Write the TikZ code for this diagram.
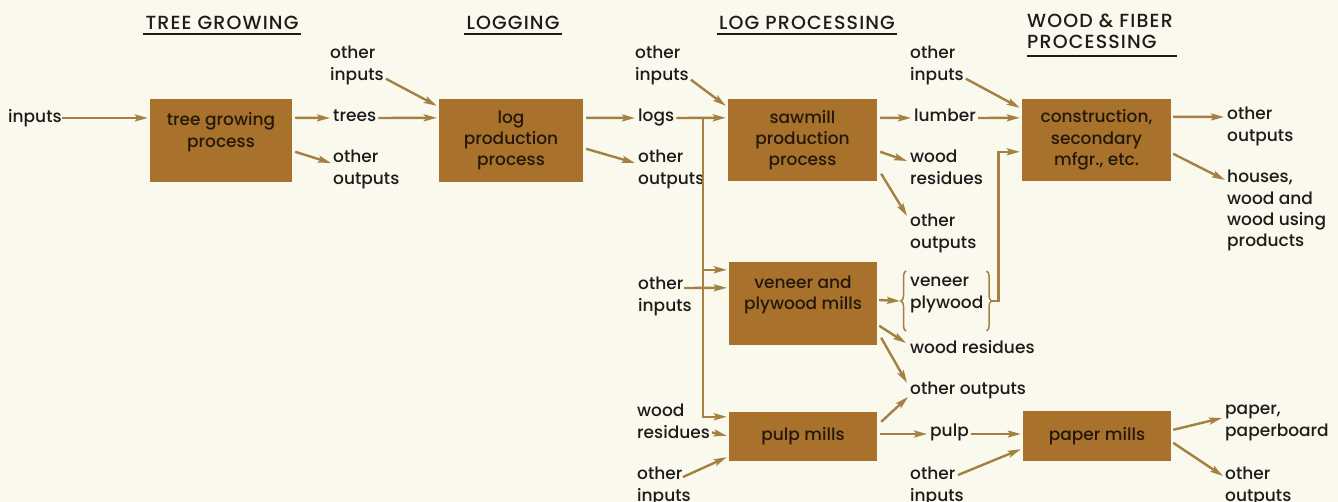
\documentclass[tikz,border=0pt]{standalone}
\usepackage{fontspec}
\setmainfont{Poppins}[UprightFont={* Medium}]
\newfontfamily\headfam{Poppins}[UprightFont={* Medium}, LetterSpace=6]
\usetikzlibrary{arrows.meta,calc,decorations.pathreplacing}

\definecolor{paper}{RGB}{250,249,238}
\definecolor{boxfill}{RGB}{168,114,44}
\definecolor{boxtext}{RGB}{36,24,10}
\definecolor{ink}{RGB}{30,28,26}
\definecolor{flow}{RGB}{164,128,66}

\newcommand{\lblfont}{\fontsize{17}{21.3}\selectfont}
\newcommand{\headfont}{\headfam\fontsize{19}{21}\selectfont}

\tikzset{
  procbox/.style={fill=boxfill, draw=none, inner sep=0pt, align=center,
    text=boxtext, font=\lblfont},
  lbl/.style={anchor=north west, inner sep=0pt, align=left, text=ink,
    font=\lblfont, execute at begin node={\vphantom{h}}},
  head/.style={inner sep=0pt, text=ink, font=\headfont, align=left},
  rule/.style={draw=ink, line width=1.6pt},
  arr/.style={draw=flow, line width=2.4pt,
    -{Stealth[length=13pt,width=7pt,inset=2.5pt]}},
  brc/.style={draw=flow, line width=1.5pt,
    decorate, decoration={brace, amplitude=5pt}},
}

\begin{document}
\begin{tikzpicture}[x=1pt,y=-1pt]
\fill[paper] (0,0) rectangle (1338,502);
\useasboundingbox (0,0) rectangle (1338,502);

% ---------- stage headings ----------
\node[head] (h1) at (222,23) {TREE GROWING};
\node[head] (h2) at (513,23) {LOGGING};
\node[head] (h3) at (807,23) {LOG PROCESSING};
\node[head, anchor=north west] (h4) at (1027,14) {WOOD \& FIBER\\PROCESSING};
\draw[rule] ($(h1.south west)+(-2,4)$) -- ($(h1.south east)+(2,4)$);
\draw[rule] ($(h2.south west)+(-2,4)$) -- ($(h2.south east)+(2,4)$);
\draw[rule] ($(h3.south west)+(-2,4)$) -- ($(h3.south east)+(2,4)$);
\draw[rule] ($(h4.south west)+(0,7)$) -- ($(h4.south east)+(4,7)$);

% ---------- process boxes ----------
\node[procbox, minimum width=142pt, minimum height=83pt] (tg) at (221,140.5)
  {tree growing\\process\\\mbox{}};
\node[procbox, minimum width=144pt, minimum height=83pt] (lp) at (511,140.5)
  {log\\production\\process};
\node[procbox, minimum width=149pt, minimum height=82pt] (sw) at (802.5,140)
  {sawmill\\production\\process};
\node[procbox, minimum width=148pt, minimum height=83pt] (vn) at (803,303.5)
  {veneer and\\plywood mills\\\mbox{}};
\node[procbox, minimum width=148pt, minimum height=49pt] (pm) at (803,436.5)
  {pulp mills};
\node[procbox, minimum width=149pt, minimum height=82pt] (cn) at (1096.5,140)
  {construction,\\secondary\\mfgr., etc.};
\node[procbox, minimum width=148pt, minimum height=50pt] (pp) at (1097,436)
  {paper mills};

% ---------- flow labels ----------
\node[lbl] (Linputs) at (8,109)   {inputs};
\node[lbl] (Ltrees)  at (333,109) {trees};
\node[lbl] (Ltgout)  at (333,150) {other\\outputs};
\node[lbl] (Llpoi)   at (330,46)  {other\\inputs};
\node[lbl] (Llogs)   at (638,109) {logs};
\node[lbl] (Llpout)  at (638,150) {other\\outputs};
\node[lbl] (Lswoi)   at (635,46)  {other\\inputs};
\node[lbl] (Llumber) at (914,109) {lumber};
\node[lbl] (Lswres)  at (910,150) {wood\\residues};
\node[lbl] (Lswout)  at (910,214) {other\\outputs};
\node[lbl] (Lcnoi)   at (910,46)  {other\\inputs};
\node[lbl] (Lcnout)  at (1227,107) {other\\outputs};
\node[lbl] (Lhouses) at (1227,170) {houses,\\wood and\\wood using\\products};
\node[lbl] (Lvnoi)   at (638,277) {other\\inputs};
\node[lbl] (Lvp)     at (910,277) {veneer\\plywood};
\node[lbl] (Lvnres)  at (910,340) {wood residues};
\node[lbl] (Lvnout)  at (910,382) {other outputs};
\node[lbl] (Lpmres)  at (637,404) {wood\\residues};
\node[lbl] (Lpmoi)   at (637,467) {other\\inputs};
\node[lbl] (Lpulp)   at (930,424) {pulp};
\node[lbl] (Lppoi)   at (910,467) {other\\inputs};
\node[lbl] (Lpaper)  at (1225,405) {paper,\\paperboard};
\node[lbl] (Lppout)  at (1225,467) {other\\outputs};

% braces round veneer / plywood
\draw[brc] ($(Lvp.north west)+(-4,54)$) -- ($(Lvp.north west)+(-4,-6)$);
\draw[brc] ($(Lvp.north east)+(3,-6)$) -- ($(Lvp.north east)+(3,54)$);
\coordinate (vpin)  at ($(Lvp.north west)+(-10,24)$);
\coordinate (vpout) at ($(Lvp.north east)+(8,24)$);

% ---------- tree growing ----------
\draw[arr, shorten >=2pt] (Linputs.east) -- (Linputs.east -| tg.west);
\draw[arr] ($(tg.north east)+(3,19)$) -- ($(Ltrees.north west)+(-3,9)$);
\draw[arr] ($(tg.north east)+(3,53)$) -- ($(Ltgout.north west)+(-2,13)$);

% ---------- logging ----------
\draw[arr] ($(Ltrees.north east)+(2,9)$) -- ($(lp.north west)+(-2,19)$);
\draw[arr] ($(Llpoi.south east)+(2,-6)$) -- ($(lp.north west)+(-2,7)$);
\draw[arr] ($(lp.north east)+(3,19)$) -- ($(Llogs.north west)+(-3,9)$);
\draw[arr] ($(lp.north east)+(3,50)$) -- ($(Llpout.north west)+(-3,13)$);

% ---------- log processing ----------
\draw[arr] ($(Lswoi.south east)+(2,-5)$) -- ($(sw.north west)+(-2,7)$);
\draw[arr] ($(Llogs.north east)+(2,9)$) -- ($(sw.north west)+(-2,19)$);
\coordinate (trunk) at ($(sw.north west)+(-25,19)$);
\draw[arr] (trunk) |- ($(vn.north west)+(-2,8)$);
\draw[arr] (trunk) |- ($(pm.north west)+(-2,5)$);
\draw[arr] ($(Lvnoi.north west)+(46,11)$) -- ($(vn.north west)+(-2,26)$);
\draw[arr] ($(Lpmres.south east)+(2,-6)$) -- ($(pm.north west)+(-2,24)$);
\draw[arr] ($(Lpmoi.north west)+(46,10)$) -- ($(pm.south west)+(-2,-4)$);

\draw[arr] ($(sw.north east)+(3,19)$) -- ($(Llumber.north west)+(-3,9)$);
\draw[arr] ($(sw.north east)+(3,53)$) -- ($(Lswres.north west)+(-3,11)$);
\draw[arr] ($(sw.north east)+(4,75)$) -- ($(Lswout.north west)+(-3,2)$);

\draw[arr] ($(vn.east)+(2,-3.5)$) -- (vpin);
\draw[arr] ($(vn.north east)+(2,64)$) -- ($(Lvnres.north west)+(-4,3)$);
\draw[arr] ($(vn.north east)+(4,76)$) -- ($(Lvnout.north west)+(-3,1)$);
\draw[arr] ($(pm.north east)+(4,10)$) -- ($(Lvnout.north west)+(-2,15)$);
\draw[arr] ($(pm.east)+(3,-2.5)$) -- ($(Lpulp.north west)+(-3,10)$);

% ---------- wood & fiber processing ----------
\draw[arr] ($(Lcnoi.south east)+(2,-6)$) -- ($(cn.north west)+(-2,9)$);
\draw[arr] ($(Llumber.north east)+(2,9)$) -- ($(cn.north west)+(-2,19)$);
\draw[arr] (vpout) -- ++(7,0) |- ($(cn.north west)+(-2,53)$);
\draw[arr] ($(cn.north east)+(2,18)$) -- ($(Lcnout.north west)+(-3,10)$);
\draw[arr] ($(cn.north east)+(2,55)$) -- ($(Lhouses.north west)+(-2,10)$);

\draw[arr] ($(Lpulp.north east)+(2,10)$) -- ($(pp.west)+(-2,-2)$);
\draw[arr] ($(Lppoi.north west)+(48,8)$) -- ($(pp.south west)+(-2,-12)$);
\draw[arr] ($(pp.north east)+(2,19)$) -- ($(Lpaper.north west)+(-3,13)$);
\draw[arr] ($(pp.north east)+(2,32)$) -- ($(Lppout.north west)+(-2,9)$);
\end{tikzpicture}
\end{document}
